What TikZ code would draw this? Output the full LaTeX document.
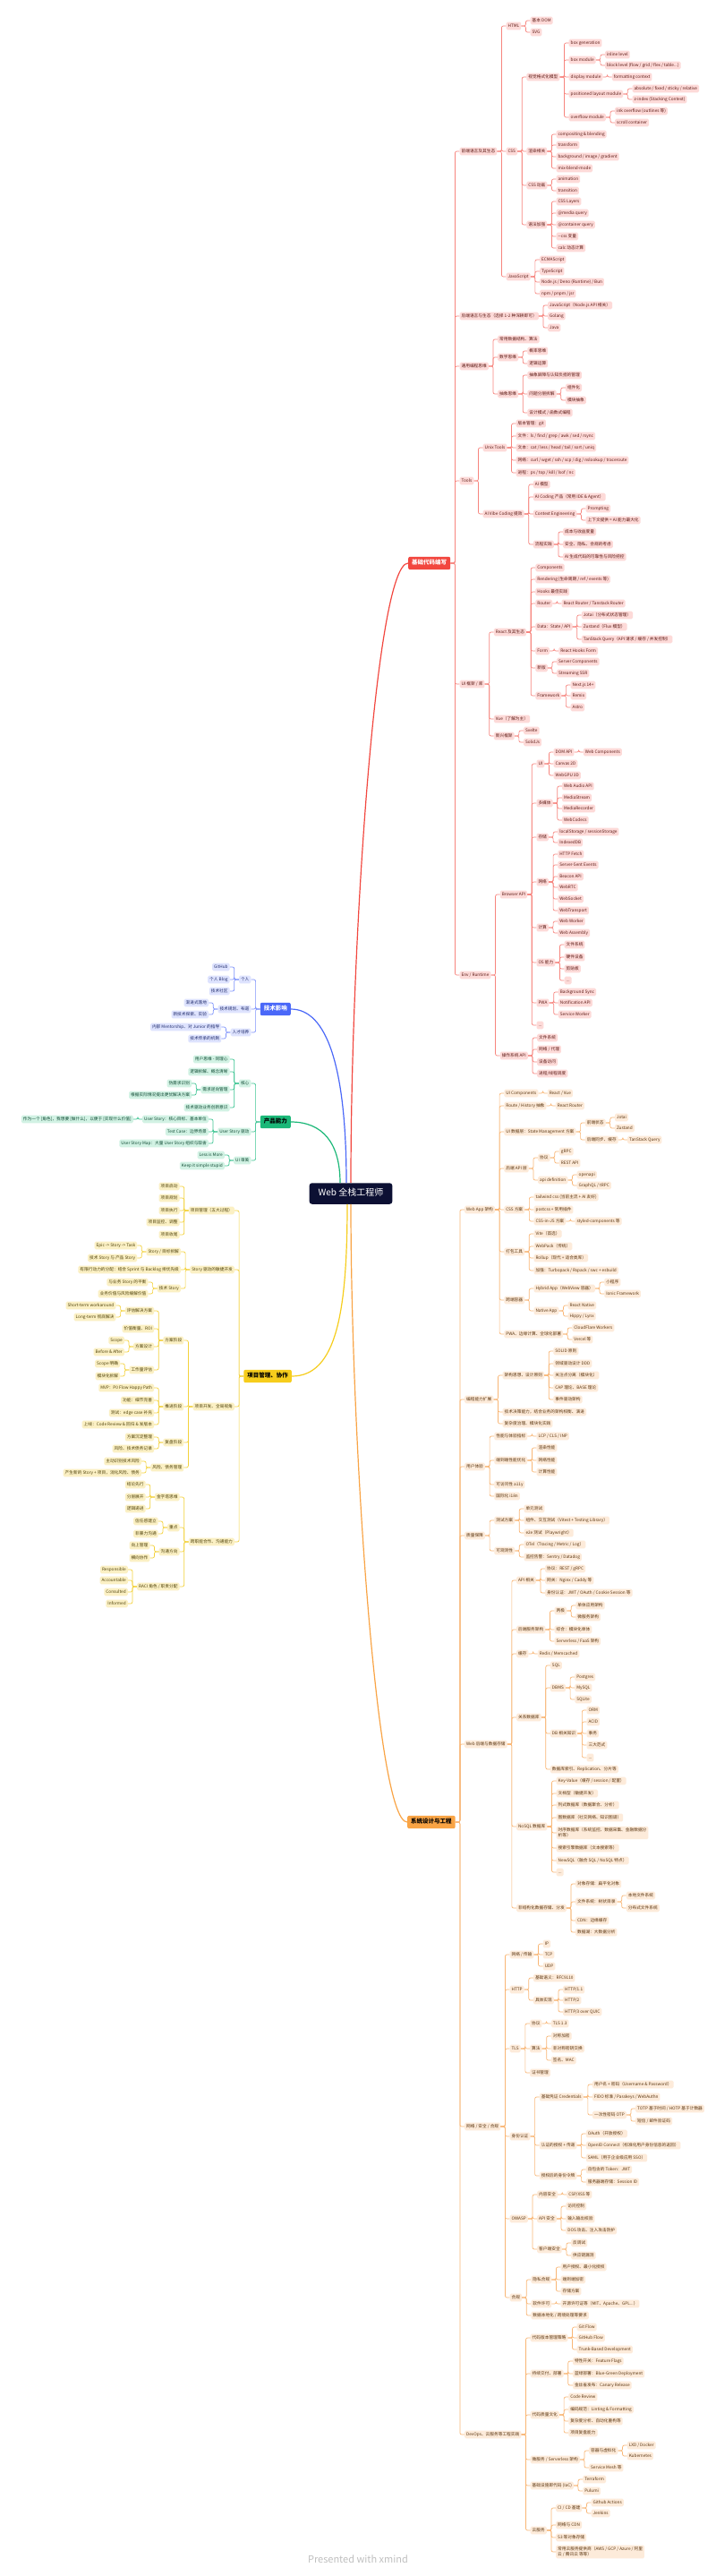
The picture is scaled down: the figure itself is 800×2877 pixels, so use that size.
\documentclass[tikz,border=0pt]{standalone}
\usepackage{fontspec}
\newfontfamily\cjk{Noto Sans CJK SC}
\definecolor{redm}{HTML}{F2473F}\definecolor{redf}{HTML}{FDDAD8}\definecolor{redt}{HTML}{5C1A15}\definecolor{redl}{HTML}{F7857E}
\definecolor{orgm}{HTML}{F9A445}\definecolor{orgf}{HTML}{FDEBDA}\definecolor{orgt}{HTML}{5A3510}\definecolor{orgl}{HTML}{F9B675}
\definecolor{blum}{HTML}{4A68F8}\definecolor{bluf}{HTML}{DEE3FE}\definecolor{blut}{HTML}{1E2A6B}\definecolor{blul}{HTML}{7D92FB}
\definecolor{grnm}{HTML}{1BB878}\definecolor{grnf}{HTML}{D2F2E4}\definecolor{grnt}{HTML}{0E4A33}\definecolor{grnl}{HTML}{3CC592}
\definecolor{yelm}{HTML}{F6CD1C}\definecolor{yelf}{HTML}{FBF0C4}\definecolor{yelt}{HTML}{4F420A}\definecolor{yell}{HTML}{F4D23C}
\definecolor{hubc}{HTML}{0C1033}

\begin{document}
\begin{tikzpicture}[
    x=1pt, y=-1pt,
    box/.style={rounded corners=1.5pt, inner xsep=2pt, inner ysep=2pt, font=\cjk\fontsize{4.7}{5.8}\selectfont},
    leaf/.style={box, text height=3.6pt, text depth=1pt, fill=#1f, text=#1t},
    wrapleaf/.style={box, align=left, fill=#1f, text=#1t},
    twig/.style={draw=#1l, line width=0.7pt, rounded corners=2pt},
    mtopic/.style={rounded corners=2pt, fill=#1m, inner xsep=4pt, inner ysep=4pt, text height=5pt, text depth=1.4pt, font=\cjk\bfseries\fontsize{6.5}{7}\selectfont},
    hub/.style={rounded corners=3pt, fill=hubc, text=white, inner xsep=10pt, inner ysep=7pt, text height=7.5pt, text depth=2pt, font=\cjk\fontsize{10}{11}\selectfont},
    trunk/.style={draw=#1m, line width=1.2pt}
    ]
    \fill[white] (0,0) rectangle (800,2877);
    \useasboundingbox (0,0) rectangle (800,2877);

    \node[hub] (web) at (392,1333) {Web 全栈工程师};
    \node[mtopic=red, text=white, anchor=west] (jc) at (456,629) {基础代码编写};
    \node[mtopic=org, text=black, anchor=west] (xt) at (455,2035) {系统设计与工程};
    \node[mtopic=blu, text=white, anchor=east] (jy) at (325,1127) {技术影响};
    \node[mtopic=grn, text=black, anchor=east] (cp) at (325,1253) {产品能力};
    \node[mtopic=yel, text=black, anchor=east] (xm) at (326,1537) {项目管理、协作};

    \draw[trunk=red] (web.north) .. controls +(0,-270) and +(-36,0) .. (jc.west);
    \draw[trunk=org] (web.south) .. controls +(0,255) and +(-35,0) .. (xt.west);
    \draw[trunk=blu] ([xshift=-5pt]web.north) .. controls +(0,-130) and +(40,0) .. (jy.east);
    \draw[trunk=grn] ([xshift=-12pt]web.north) .. controls +(0,-45) and +(35,0) .. (cp.east);
    \draw[trunk=yel] ([xshift=-4pt]web.south) .. controls +(0,120) and +(50,0) .. (xm.east);

    % 基础代码编写
    \foreach \p/\n/\y/\lbl in {
        jc/yy/169/{前端语言及其生态},
        yy/html/29/{HTML}, html/dom/23/{基本 DOM}, html/svg/36/{SVG},
        yy/css/169/{CSS},
        css/vfm/86/{视觉格式化模型},
        vfm/bgen/48/{box generation},
        vfm/bmod/67/{box module}, bmod/inl/61/{inline level}, bmod/blk/73/{block level (flow / grid / flex / table...)},
        vfm/dmod/86/{display module}, dmod/fctx/86/{formatting context},
        vfm/pmod/105/{positioned layout module}, pmod/abs/99/{absolute / fixed / sticky / relative}, pmod/zidx/111/{z-index (Stacking Context)},
        vfm/omod/131/{overflow module}, omod/ink/124/{ink overflow (outlines 等)}, omod/scr/137/{scroll container},
        css/rnd/169/{渲染相关},
        rnd/comp/150/{compositing \& blending}, rnd/trf/162/{transform}, rnd/bgi/175/{background / image / gradient}, rnd/mix/188/{mix-blend-mode},
        css/anim/207/{CSS 动画}, anim/ani/200/{animation}, anim/trn/213/{transition},
        css/syn/251/{语法加强},
        syn/lay/225/{CSS Layers}, syn/mq/238/{@media query}, syn/cq/251/{@container query}, syn/cvar/264/{-{}-css 变量}, syn/calc/277/{calc 动态计算},
        yy/js/309/{JavaScript},
        js/es/290/{ECMAScript}, js/ts/303/{TypeScript}, js/njs/315/{Node.js / Deno (Runtime) / Bun}, js/npm/328/{npm / pnpm / jsr},
        jc/hd/353/{后端语言与生态（选择 1-2 种深耕即可）},
        hd/hdjs/341/{JavaScript（Node.js API 相关）}, hd/go/353/{Golang}, hd/java/366/{Java},
        jc/bc/409/{通用编程思维},
        bc/dsa/379/{常用数据结构、算法},
        bc/math/399/{数学思维}, math/prob/392/{概率思维}, math/logic/406/{逻辑运算},
        bc/abst/440/{抽象思维},
        abst/barr/419/{抽象屏障与认知负担的管理},
        abst/split/440/{问题分层拆解}, split/cmpz/433/{组件化}, split/modz/447/{模块抽象},
        abst/dp/461/{设计模式 / 函数式编程},
        jc/tools/537/{Tools},
        tools/unix/500/{Unix Tools},
        unix/git/473/{版本管理：git},
        unix/file/487/{文件：ls / find / grep / awk / sed / rsync},
        unix/txt/500/{文本：cat / less / head / tail / sort / uniq},
        unix/net/514/{网络：curl / wget / ssh / scp / dig / nslookup / traceroute},
        unix/proc/528/{进程：ps / top / kill / lsof / nc},
        tools/ai/574/{AI Vibe Coding 提效},
        ai/aim/541/{AI 模型},
        ai/aip/555/{AI Coding 产品（常用 IDE \& Agent）},
        ai/ctx/574/{Context Engineering}, ctx/prm/568/{Prompting}, ctx/ctxp/581/{上下文提供 = AI 能力最大化},
        ai/flow/608/{流程实践},
        flow/cost/594/{成本与收益度量}, flow/sec/608/{安全、隐私、合规的考虑}, flow/risk/622/{AI 生成代码的可靠性与风险把控},
        jc/ui/764/{UI 框架 / 库},
        ui/react/706/{React 及其生态},
        react/rcmp/634/{Components},
        react/rrnd/647/{Rendering (生命周期 / ref / events 等)},
        react/hook/661/{Hooks 最佳实践},
        react/rtr/674/{Router}, rtr/rrtr/674/{React Router / Tanstack Router},
        react/data/700/{Data：State / API},
        data/jotai/687/{Jotai（分布式状态管理）}, data/zus/700/{Zustand（Flux 模型）}, data/tsq/714/{TanStack Query（API 请求 / 缓存 / 并发控制）},
        react/form/727/{Form}, form/rhf/727/{React Hooks Form},
        react/newv/746/{新版}, newv/rsc/739/{Server Components}, newv/sssr/752/{Streaming SSR},
        react/fw/777/{Framework}, fw/next/765/{Next.js 14+}, fw/remix/777/{Remix}, fw/astro/790/{Astro},
        ui/vue/803/{Vue（了解为主）},
        ui/nfw/822/{新兴框架}, nfw/svelte/816/{Svelte}, nfw/sjs/829/{SolidJs},
        jc/env/1089/{Env / Runtime},
        env/bapi/999/{Browser API},
        bapi/bui/853/{UI}, bui/domapi/840/{DOM API}, domapi/wc/840/{Web Components}, bui/c2d/853/{Canvas 2D}, bui/gpu/866/{WebGPU 3D},
        bapi/media/897/{多媒体}, media/wau/878/{Web Audio API}, media/mst/891/{MediaStream}, media/mrec/903/{MediaRecorder}, media/wcod/916/{WebCodecs},
        bapi/stor/935/{存储}, stor/lst/929/{localStorage / sessionStorage}, stor/idb/941/{IndexedDB},
        bapi/bnet/985/{网络},
        bnet/fetch/954/{HTTP Fetch}, bnet/sse/966/{Server-Sent Events}, bnet/beacon/979/{Beacon API},
        bnet/rtc/991/{WebRTC}, bnet/ws/1004/{WebSocket}, bnet/wt/1017/{WebTransport},
        bapi/cmpt/1036/{计算}, cmpt/wwk/1029/{Web Worker}, cmpt/wasm/1042/{Web Assembly},
        bapi/osc/1075/{OS 能力}, osc/ofs/1055/{文件系统}, osc/hw/1069/{硬件设备}, osc/clip/1082/{剪贴板}, osc/odots/1095/{...},
        bapi/pwa/1120/{PWA}, pwa/bgs/1108/{Background Sync}, pwa/ntf/1120/{Notification API}, pwa/sw/1133/{Service Worker},
        bapi/bdots/1145/{...},
        env/osapi/1179/{操作系统 API},
        osapi/sfs/1159/{文件系统}, osapi/snet/1172/{网络 / 代理}, osapi/devc/1186/{设备访问}, osapi/sched/1199/{进程/线程调度}
    }{
        \node[leaf=red, anchor=west, xshift=10pt] (\n) at (\p.east |- 0,\y) {\lbl};
        \draw[twig=red] (\p.east) -- ++(5,0) |- (\n.west);
    }

    % 系统设计与工程
    \foreach \p/\n/\y/\lbl in {
        xt/webapp/1351/{Web App 架构},
        webapp/uic/1221/{UI Components}, uic/rv/1221/{React / Vue},
        webapp/route/1235/{Route / History 抽象}, route/rr/1235/{React Router},
        webapp/state/1264/{UI 数据层：State Management 方案},
        state/fst/1254/{前端状态}, fst/jot/1248/{Jotai}, fst/zst/1260/{Zustand},
        state/bsync/1273/{后端同步、缓存}, bsync/tq/1273/{TanStack Query},
        webapp/bapil/1305/{后端 API 层},
        bapil/proto/1293/{协议}, proto/grpc/1286/{gRPC}, proto/rest/1299/{REST API},
        bapil/apid/1318/{api definition}, apid/oapi/1312/{openapi}, apid/gql/1324/{GraphQL / tRPC},
        webapp/cssp/1351/{CSS 方案},
        cssp/tw/1337/{tailwind css (当前主流 + AI 友好)}, cssp/pcss/1351/{postcss + 常用插件},
        cssp/cij/1364/{CSS-in-JS 方案}, cij/sc/1364/{styled-components 等},
        webapp/bund/1398/{打包工具},
        bund/vite/1378/{Vite（首选）}, bund/wp/1392/{WebPack（传统）}, bund/rollup/1405/{Rollup（现代 + 适合类库）},
        bund/turbo/1419/{加强：Turbopack / Rspack / swc + esbuild},
        webapp/cont/1452/{跨端容器},
        cont/hyb/1439/{Hybrid App（WebView 容器）}, hyb/mini/1432/{小程序}, hyb/ionic/1445/{Ionic Framework},
        cont/nat/1464/{Native App}, nat/rn/1458/{React Native}, nat/hippy/1470/{Hippy / Lynx},
        webapp/edge/1490/{PWA、边缘计算、全球化部署}, edge/cfw/1483/{CloudFlare Workers}, edge/vercel/1496/{Vercel 等},
        xt/arch/1563/{编程能力扩展},
        arch/ad/1536/{架构思想、设计原则},
        ad/solid/1509/{SOLID 原则}, ad/ddd/1523/{领域驱动设计 DDD}, ad/soc/1536/{关注点分离（模块化）},
        ad/cap/1550/{CAP 理论、BASE 理论}, ad/eda/1563/{事件驱动架构},
        arch/tdec/1577/{技术决策能力，结合业务的架构权衡、演进},
        arch/cplx/1590/{复杂度治理、模块化实践},
        xt/ux/1638/{用户体验},
        ux/perf/1604/{性能与体验指标}, perf/lcp/1604/{LCP / CLS / INP},
        ux/e2ep/1631/{端到端性能优化}, e2ep/rperf/1617/{渲染性能}, e2ep/nperf/1631/{网络性能}, e2ep/cperf/1644/{计算性能},
        ux/a11y/1658/{可访问性 a11y}, ux/i18n/1671/{国际化 i18n},
        xt/qa/1715/{质量保障},
        qa/test/1698/{测试方案},
        test/unit/1685/{单元测试}, test/comt/1698/{组件、交互测试（Vitest + Testing Library）}, test/e2e/1712/{e2e 测试（Playwright）},
        qa/obs/1732/{可观测性}, obs/otel/1725/{OTel（Tracing / Metric / Log）}, obs/mon/1739/{监控告警：Sentry / Datadog},
        xt/wb/1948/{Web 后端与数据存储},
        wb/apir/1765/{API 相关},
        apir/aproto/1752/{协议：REST / gRPC}, apir/gw/1765/{网关：Nginx / Caddy 等},
        apir/auth/1779/{身份认证：JWT / OAuth / Cookie Session 等},
        wb/svc/1820/{后端服务架构},
        svc/pole/1799/{两极}, pole/mono/1793/{单体应用架构}, pole/micro/1806/{微服务架构},
        svc/modm/1820/{综合：模块化单体}, svc/faas/1833/{Serverless / FaaS 架构},
        wb/cache/1847/{缓存}, cache/redis/1847/{Redis / Memcached},
        wb/rdb/1918/{关系数据库},
        rdb/sql/1860/{SQL},
        rdb/dbms/1885/{DBMS}, dbms/pg/1873/{Postgres}, dbms/mysql/1885/{MySQL}, dbms/lite/1898/{SQLite},
        rdb/dbk/1936/{DB 相关知识},
        dbk/orm/1910/{ORM}, dbk/acid/1923/{ACID}, dbk/tx/1936/{事务}, dbk/nf/1949/{三大范式}, dbk/dbdots/1963/{...},
        rdb/idx/1976/{数据库索引、Replication、分片等},
        wb/nosql/2040/{NoSQL 数据库},
        nosql/kv/1989/{Key-Value（缓存 / session / 配置）},
        nosql/doc/2003/{文档型（敏捷开发）},
        nosql/col/2016/{列式数据库（数据聚合、分析）},
        nosql/graph/2030/{图数据库（社交网络、知识图谱）},
        nosql/srch/2064/{搜索引擎数据库（文本搜索等）},
        nosql/nsql/2078/{NewSQL（融合 SQL / NoSQL 特点）},
        nosql/nsdots/2091/{...},
        wb/unst/2131/{非结构化数据存储、分发},
        unst/obj/2104/{对象存储：扁平化对象},
        unst/fsys/2124/{文件系统：树状目录}, fsys/lfs/2117/{本地文件系统}, fsys/dfs/2131/{分布式文件系统},
        unst/cdn/2145/{CDN：边缘缓存}, unst/lake/2158/{数据湖：大数据分析},
        xt/nsc/2375/{网络 / 安全 / 合规},
        nsc/trans/2183/{网络 / 传输}, trans/ip/2171/{IP}, trans/tcp/2183/{TCP}, trans/udp/2196/{UDP},
        nsc/http/2222/{HTTP},
        http/rfc/2209/{基础语义：RFC9110},
        http/impl/2234/{具体实现}, impl/h1/2222/{HTTP/1.1}, impl/h2/2234/{HTTP/2}, impl/h3/2247/{HTTP/3 over QUIC},
        nsc/tls/2288/{TLS},
        tls/tproto/2260/{协议}, tproto/tls13/2260/{TLS 1.3},
        tls/algo/2288/{算法}, algo/sym/2274/{对称加密}, algo/asym/2288/{非对称密钥交换}, algo/sig/2301/{签名、MAC},
        tls/cert/2315/{证书管理},
        nsc/idn/2386/{身份认证},
        idn/cred/2342/{基础凭证 Credentials},
        cred/pwd/2328/{用户名 + 密码（Username \& Password）},
        cred/fido/2342/{FIDO 标准 / Passkeys / WebAuthn},
        cred/otp/2362/{一次性密码 OTP}, otp/totp/2355/{TOTP 基于时间 / HOTP 基于计数器}, otp/sms/2369/{短信 / 邮件验证码},
        idn/authz/2396/{认证的授权 + 传递},
        authz/oauth/2383/{OAuth（开放授权）},
        authz/oidc/2396/{OpenID Connect（标准化用户身份信息的返回）},
        authz/saml/2410/{SAML（用于企业级应用 SSO）},
        idn/token/2430/{授权后的身份令牌},
        token/jwt/2423/{自包含的 Token：JWT}, token/sess/2437/{服务器端存储：Session ID},
        nsc/owasp/2478/{OWASP},
        owasp/csec/2451/{内容安全}, csec/csp/2451/{CSP/XSS 等},
        owasp/asec/2478/{API 安全}, asec/acl/2464/{访问控制}, asec/iov/2478/{输入输出校验}, asec/dos/2491/{DOS 攻击、注入攻击防护},
        owasp/clsec/2512/{客户端安全}, clsec/adbg/2505/{反调试}, clsec/sup/2519/{供应链漏洞},
        nsc/cmpl/2566/{合规},
        cmpl/priv/2546/{隐私合规}, priv/mina/2532/{用户授权、最小化授权}, priv/e2ee/2546/{端到端加密}, priv/pstor/2559/{存储方案},
        cmpl/lic/2573/{软件许可}, lic/oss/2573/{开源许可证等（MIT、Apache、GPL...）},
        cmpl/loc/2586/{数据本地化 / 跨境处理等要求},
        xt/devops/2719/{DevOps、云服务等工程实践},
        devops/vcs/2611/{代码版本管理策略},
        vcs/gfl/2599/{Git Flow}, vcs/ghf/2611/{GitHub Flow}, vcs/tbd/2624/{Trunk-Based Development},
        devops/cd/2651/{持续交付、部署},
        cd/ff/2637/{特性开关：Feature Flags}, cd/bg/2651/{蓝绿部署：Blue-Green Deployment}, cd/can/2664/{金丝雀发布：Canary Release},
        devops/qcul/2697/{代码质量文化},
        qcul/cr/2677/{Code Review}, qcul/lint/2691/{编码规范：Linting \& Formatting},
        qcul/refa/2704/{复杂度分析、自动化重构等}, qcul/retro/2717/{项目复盘能力},
        devops/msv/2747/{微服务 / Serverless 架构},
        msv/virt/2737/{容器与虚拟化}, virt/dock/2731/{LXD / Docker}, virt/k8s/2743/{Kubernetes},
        msv/mesh/2756/{Service Mesh 等},
        devops/iac/2776/{基础设施即代码 (IaC)}, iac/tf/2769/{Terraform}, iac/pul/2782/{Pulumi},
        devops/cloud/2826/{云服务},
        cloud/cicd/2801/{CI / CD 基建}, cicd/gha/2795/{Github Actions}, cicd/jen/2807/{Jenkins},
        cloud/ccdn/2820/{网络与 CDN}, cloud/s3/2834/{S3 等对象存储}
    }{
        \node[leaf=org, anchor=west, xshift=10pt] (\n) at (\p.east |- 0,\y) {\lbl};
        \draw[twig=org] (\p.east) -- ++(5,0) |- (\n.west);
    }
    \node[wrapleaf=org, anchor=west, xshift=10pt] (tsdb) at (nosql.east |- 0,2047) {时序数据库（系统监控、数据采集、金融数据分\\析等）};
    \draw[twig=org] (nosql.east) -- ++(5,0) |- (tsdb.west);
    \node[wrapleaf=org, anchor=west, xshift=10pt] (prov) at (cloud.east |- 0,2850) {常用云服务提供商（AWS / GCP / Azure / 阿里\\云 / 腾讯云 等等）};
    \draw[twig=org] (cloud.east) -- ++(5,0) |- (prov.west);

    % 技术影响
    \foreach \p/\n/\y/\lbl in {
        jy/gr/1094/{个人}, gr/gh/1080/{GitHub}, gr/blog/1094/{个人 Blog}, gr/comm/1107/{技术社区},
        jy/plan/1127/{技术规划、布道}, plan/prog/1120/{渐进式落地}, plan/expl/1133/{新技术探索、实验},
        jy/tal/1153/{人才培养}, tal/ment/1147/{内部 Mentorship、对 Junior 的指导}, tal/inh/1160/{技术传承的机制}
    }{
        \node[leaf=blu, anchor=east, xshift=-10pt] (\n) at (\p.west |- 0,\y) {\lbl};
        \draw[twig=blu] (\p.west) -- ++(-5,0) |- (\n.east);
    }

    % 产品能力
    \foreach \p/\n/\y/\lbl in {
        cp/core/1210/{核心},
        core/emp/1183/{用户思维 - 同理心}, core/lg/1197/{逻辑拆解、概念清晰},
        core/rev/1217/{需求逆向管理}, rev/fake/1210/{伪需求识别}, rev/better/1223/{根据实际情况提出更优解决方案},
        core/inno/1237/{技术驱动业务创新意识},
        cp/usd/1264/{User Story 驱动},
        usd/us/1250/{User Story：核心目标、基本单位},
        us/tmpl/1250/{作为一个 [角色]，我想要 [做什么]，以便于 [实现什么价值]},
        usd/tc/1264/{Test Case：边界场景},
        usd/usm/1277/{User Story Map：大量 User Story 组织与取舍},
        cp/uia/1296/{UI 审美}, uia/less/1290/{Less is More}, uia/kiss/1302/{Keep it simple stupid}
    }{
        \node[leaf=grn, anchor=east, xshift=-10pt] (\n) at (\p.west |- 0,\y) {\lbl};
        \draw[twig=grn] (\p.west) -- ++(-5,0) |- (\n.east);
    }

    % 项目管理、协作
    \foreach \p/\n/\y/\lbl in {
        xm/pm/1352/{项目管理（五大过程）},
        pm/p1/1325/{项目启动}, pm/p2/1338/{项目规划}, pm/p3/1352/{项目执行}, pm/p4/1365/{项目监控、调整}, pm/p5/1379/{项目收尾},
        xm/agile/1418/{Story 驱动的敏捷开发},
        agile/sto/1398/{Story / 目标拆解}, sto/est/1391/{Epic -> Story -> Task}, sto/tps/1405/{技术 Story 与 产品 Story},
        agile/spr/1418/{有限行动力的分配：结合 Sprint 与 Backlog 排优先级},
        agile/tst/1439/{技术 Story}, tst/bal/1432/{与业务 Story 的平衡}, tst/val/1445/{业务价值与风险缓解价值},
        xm/dev/1571/{项目开发、全局视角},
        dev/ph1/1497/{方案阶段},
        ph1/eva/1464/{评估解决方案}, eva/stw/1458/{Short-term workaround}, eva/ltf/1471/{Long-term 彻底解决},
        ph1/roi/1484/{价值衡量、ROI},
        ph1/des/1504/{方案设计}, des/scope/1497/{Scope}, des/ba/1510/{Before \& After},
        ph1/est2/1530/{工作量评估}, est2/scm/1523/{Scope 明确}, est2/mdec/1537/{模块化拆解},
        dev/ph2/1571/{推进阶段},
        ph2/mvp/1550/{MVP：P0 Flow Happy Path}, ph2/feat/1564/{功能：细节完善},
        ph2/qa2/1578/{测试：edge case 补充}, ph2/rel/1591/{上线：Code Review \& 回归 \& 发版本},
        dev/ph3/1611/{复盘阶段}, ph3/sed/1605/{方案沉淀整理}, ph3/debt/1618/{风险、技术债务记录},
        dev/ph4/1639/{风险、债务管理}, ph4/idr/1632/{主动识别技术风险}, ph4/news/1645/{产生新的 Story + 项目，消化风险、债务},
        xm/xf/1722/{跨职能合作、沟通能力},
        xf/pyr/1672/{金字塔思维}, pyr/cf/1658/{结论先行}, pyr/lay2/1672/{分层展开}, pyr/lp/1685/{逻辑递进},
        xf/key/1706/{重点}, key/trust/1699/{信任感建立}, key/nvc/1713/{非暴力沟通},
        xf/dir/1733/{沟通方向}, dir/up/1726/{向上管理}, dir/hz/1740/{横向协作},
        xf/raci/1772/{RACI 角色 / 职责分配},
        raci/rsp/1753/{Responsible}, raci/acc/1765/{Accountable}, raci/cons/1778/{Consulted}, raci/inf/1791/{Informed}
    }{
        \node[leaf=yel, anchor=east, xshift=-10pt] (\n) at (\p.west |- 0,\y) {\lbl};
        \draw[twig=yel] (\p.west) -- ++(-5,0) |- (\n.east);
    }

    \node[text=black!25, font=\cjk\fontsize{11}{12}\selectfont] (foot) at (400,2858) {Presented with xmind};
\end{tikzpicture}
\end{document}
